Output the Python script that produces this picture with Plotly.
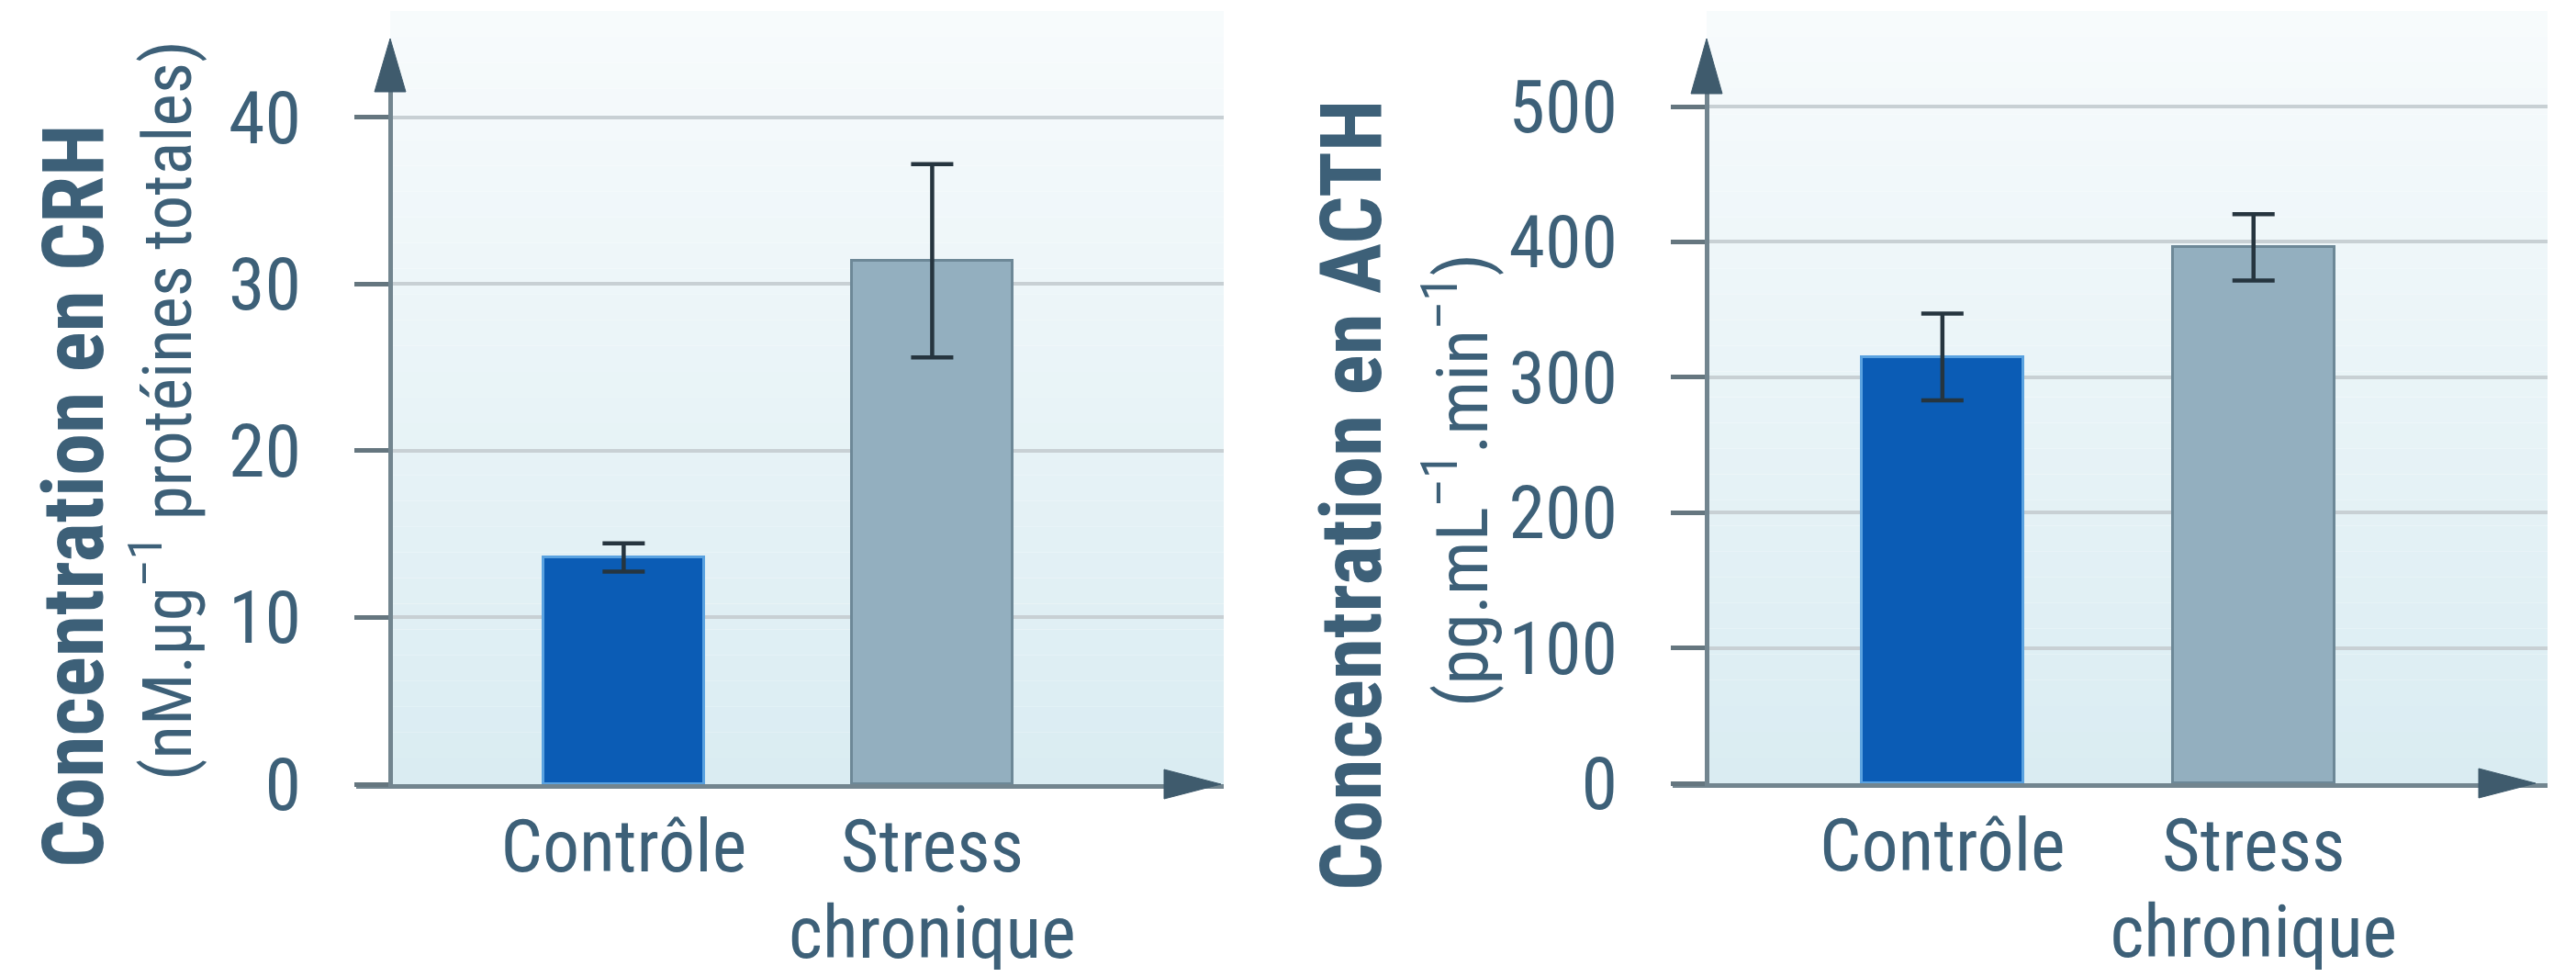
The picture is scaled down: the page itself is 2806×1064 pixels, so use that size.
import plotly.graph_objects as go

# ---------------- data ----------------
categories = ["Contrôle", "Stress chronique"]
tick_text = ["Contrôle", "Stress<br>chronique"]

crh_values = [13.6, 31.4]
crh_errors = [0.85, 5.8]
crh_ticks = [0, 10, 20, 30, 40]

acth_values = [315, 396]
acth_errors = [32, 24.5]
acth_ticks = [0, 100, 200, 300, 400, 500]

# ---------------- style ----------------
OFF = 8                    # page body margin
W, H = 2806 - 2 * OFF, 1064 - 2 * OFF
TEXT = "#3d6078"
NARROW = "Noto Sans Condensed, Roboto Condensed, Liberation Sans Narrow, Roboto, sans-serif"
bar_colors = ["#0b5cb5", "#93afbf"]
bar_line_colors = ["#5aa2e0", "#6d8897"]
AXIS = "#72858f"
TICK = "#65767f"
GRID = "#c8d0d4"
ARROW = "#3f5b6d"

# larger glyphs with a tighter line spacing for the category labels
styled_ticks = ["<br>".join('<span style="font-size:80px">%s</span>' % part
                            for part in t.split("<br>")) for t in tick_text]


def px(x):
    return (x - OFF) / W


def py(y):
    return 1 - (y - OFF) / H


fig = go.Figure()

fig.add_trace(go.Bar(
    x=categories, y=crh_values, xaxis="x", yaxis="y", width=0.52,
    marker=dict(color=bar_colors, line=dict(color=bar_line_colors, width=3)),
    error_y=dict(type="data", array=crh_errors, color="#26353f", thickness=4.5, width=23),
    showlegend=False,
))
fig.add_trace(go.Bar(
    x=categories, y=acth_values, xaxis="x2", yaxis="y2", width=0.52,
    marker=dict(color=bar_colors, line=dict(color=bar_line_colors, width=3)),
    error_y=dict(type="data", array=acth_errors, color="#26353f", thickness=4.5, width=23),
    showlegend=False,
))

xcommon = dict(
    tickmode="array", tickvals=categories, ticktext=styled_ticks, tickangle=0,
    range=[-0.867, 1.945], showline=True, linecolor=AXIS, linewidth=5,
    ticks="", showgrid=False, zeroline=False, ticklabelstandoff=4,
    tickfont=dict(family=NARROW, size=72, color=TEXT), automargin=False,
)
ycommon = dict(
    ticks="outside", ticklen=37, tickwidth=5, tickcolor=TICK,
    showgrid=True, gridcolor=GRID, gridwidth=4,
    showline=True, linecolor=AXIS, linewidth=5, zeroline=False,
    tickfont=dict(family=NARROW, size=80, color=TEXT),
    ticklabelstandoff=42, anchor="free", automargin=False,
)

fig.update_layout(
    width=W, height=H,
    margin=dict(l=0, r=0, t=0, b=0, autoexpand=False),
    paper_bgcolor="white", plot_bgcolor="rgba(0,0,0,0)",
    bargap=0.0,
    xaxis=dict(domain=[px(388), px(1333)], anchor="y", **xcommon),
    yaxis=dict(domain=[py(854), py(98)], range=[0, 41.65], tickvals=crh_ticks,
               position=px(425), **ycommon),
    xaxis2=dict(domain=[px(1822), px(2775)], anchor="y2", **xcommon),
    yaxis2=dict(domain=[py(853), py(100)], range=[0, 510.9], tickvals=acth_ticks,
                position=px(1859), **ycommon),
)

# background gradient bands (decoration)
shapes = []
n = 30
top_c = (247, 251, 252)
bot_c = (218, 236, 242)
for (x0, x1, yb) in [(425, 1333, 854), (1859, 2775, 853)]:
    ytop = 12
    for i in range(n):
        t = i / (n - 1)
        c = tuple(round(top_c[k] + (bot_c[k] - top_c[k]) * t) for k in range(3))
        y0 = ytop + (yb - ytop) * i / n
        y1 = ytop + (yb - ytop) * (i + 1) / n
        shapes.append(dict(type="rect", xref="paper", yref="paper", layer="below",
                           x0=px(x0), x1=px(x1), y0=py(y1), y1=py(y0),
                           fillcolor="rgb(%d,%d,%d)" % c, line=dict(width=0)))

# arrow heads (decoration)
def tri(pts):
    d = "M " + " L ".join("%f,%f" % (px(a), py(b)) for a, b in pts) + " Z"
    return dict(type="path", xref="paper", yref="paper", path=d,
                fillcolor=ARROW, line=dict(color=ARROW, width=1), layer="above")

shapes += [
    tri([(425, 42), (408, 100), (442, 100)]),
    tri([(1859, 42), (1842, 102), (1876, 102)]),
    tri([(1330, 854), (1268, 838), (1268, 870)]),
    tri([(2762, 853), (2700, 837), (2700, 869)]),
]
fig.update_layout(shapes=shapes)

# y-axis titles
ann = [
    dict(text="<b>Concentration en CRH</b>", x=px(80), y=py(540), size=92, family=NARROW),
    dict(text="(nM.µg<sup>–1</sup> protéines totales)", x=px(176), y=py(447), size=75, family=NARROW),
    dict(text="<b>Concentration en ACTH</b>", x=px(1472), y=py(540), size=92, family=NARROW),
    dict(text="(pg.mL<sup>–1</sup>.min<sup>–1</sup>)", x=px(1588), y=py(523), size=78, family=NARROW),
]
fig.update_layout(annotations=[
    dict(text=a["text"], x=a["x"], y=a["y"], xref="paper", yref="paper",
         xanchor="center", yanchor="middle", textangle=-90, showarrow=False,
         font=dict(family=a["family"], size=a["size"], color=TEXT))
    for a in ann
])

fig.write_html("out.html")
